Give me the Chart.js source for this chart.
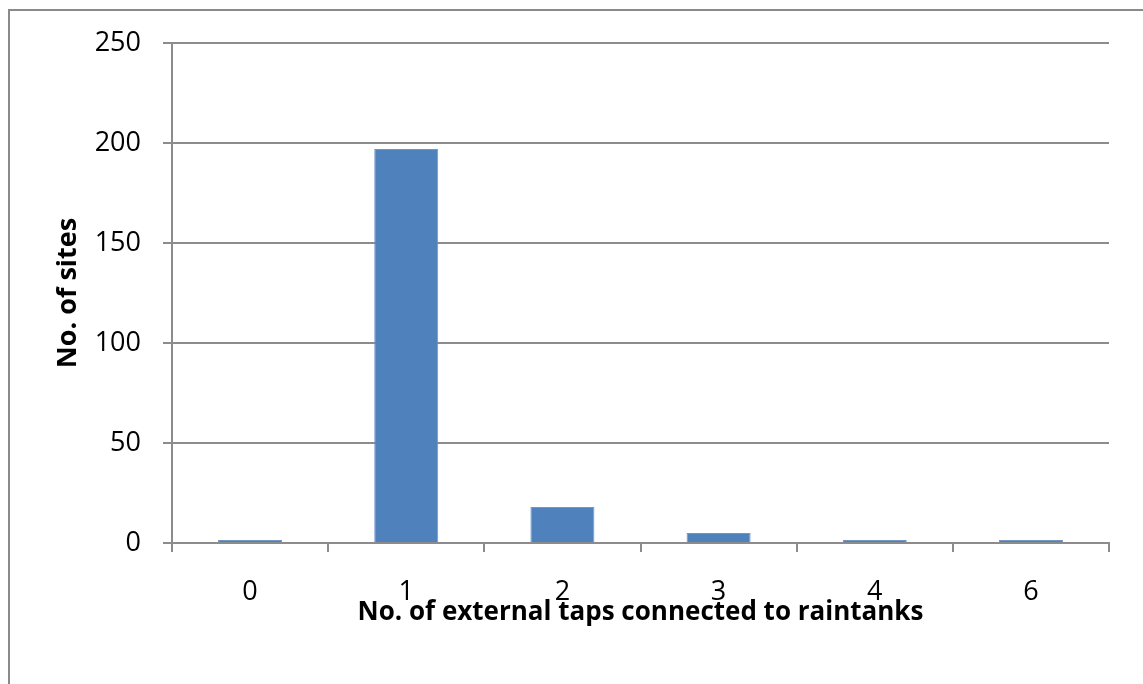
<!DOCTYPE html>
<html>
<head>
<meta charset="utf-8">
<script src="https://cdn.jsdelivr.net/npm/chart.js@4/dist/chart.umd.min.js"></script>
<style>
    html, body { margin: 0; padding: 0; background: #fff; overflow: hidden; }
    #frame {
        position: absolute; left: 8px; top: 9px; width: 2000px; height: 2000px;
        border-left: 2px solid #8a8a8a; border-top: 2px solid #8a8a8a;
    }
    #wrap { position: absolute; left: 0; top: 0; width: 1143px; height: 684px; }
</style>
</head>
<body>
<div id="frame"></div>
<div id="wrap"><canvas id="tapsChart" width="1143" height="684"></canvas></div>
<script>
const tapCategories = ['0', '1', '2', '3', '4', '6'];
const siteCounts = [1, 197, 18, 5, 1, 1];
const yTicks = [0, 50, 100, 150, 200, 250];

const gridGrey = '#8c8c8c';
const fontName = "'Open Sans', 'Liberation Sans', sans-serif";

const tapsChartData = {
    labels: tapCategories,
    datasets: [{
        data: siteCounts,
        backgroundColor: '#4f81bd',
        borderColor: '#6f96c8',
        borderWidth: 1,
        minBarLength: 3,
        categoryPercentage: 1.0,
        barPercentage: 0.41,
    }]
};

const tapsChartConfig = {
    type: 'bar',
    data: tapsChartData,
    options: {
        responsive: false,
        animation: false,
        layout: { padding: { left: 0, top: 43, right: 34, bottom: 0 } },
        plugins: {
            legend: { display: false },
            title: { display: false },
            tooltip: { enabled: false }
        },
        scales: {
            y: {
                min: 0,
                max: 250,
                afterFit: (s) => { s.width = 172; },
                afterBuildTicks: (s) => { s.ticks = yTicks.map(v => ({ value: v })); },
                grid: { color: gridGrey, lineWidth: 2, tickLength: 9, drawTicks: true },
                border: { color: gridGrey, width: 2 },
                ticks: { color: '#000', padding: 22, font: { family: fontName, size: 27 } },
                title: {
                    display: true,
                    text: 'No. of sites',
                    color: '#000',
                    padding: { top: 52, bottom: 0 },
                    font: { family: fontName, size: 27, weight: 'bold' }
                }
            },
            x: {
                afterFit: (s) => { s.height = 141; },
                grid: { display: true, drawOnChartArea: false, color: gridGrey, lineWidth: 2, tickLength: 9, offset: true },
                border: { color: gridGrey, width: 2 },
                ticks: { color: '#000', padding: 24, font: { family: fontName, size: 27 } },
                title: {
                    display: true,
                    text: 'No. of external taps connected to raintanks',
                    color: '#000',
                    padding: { top: 0, bottom: 56 },
                    font: { family: fontName, size: 26, weight: 'bold' }
                }
            }
        }
    }
};

const ctx = document.getElementById('tapsChart').getContext('2d');
const tapsChartInstance = new Chart(ctx, tapsChartConfig);
</script>
</body>
</html>
